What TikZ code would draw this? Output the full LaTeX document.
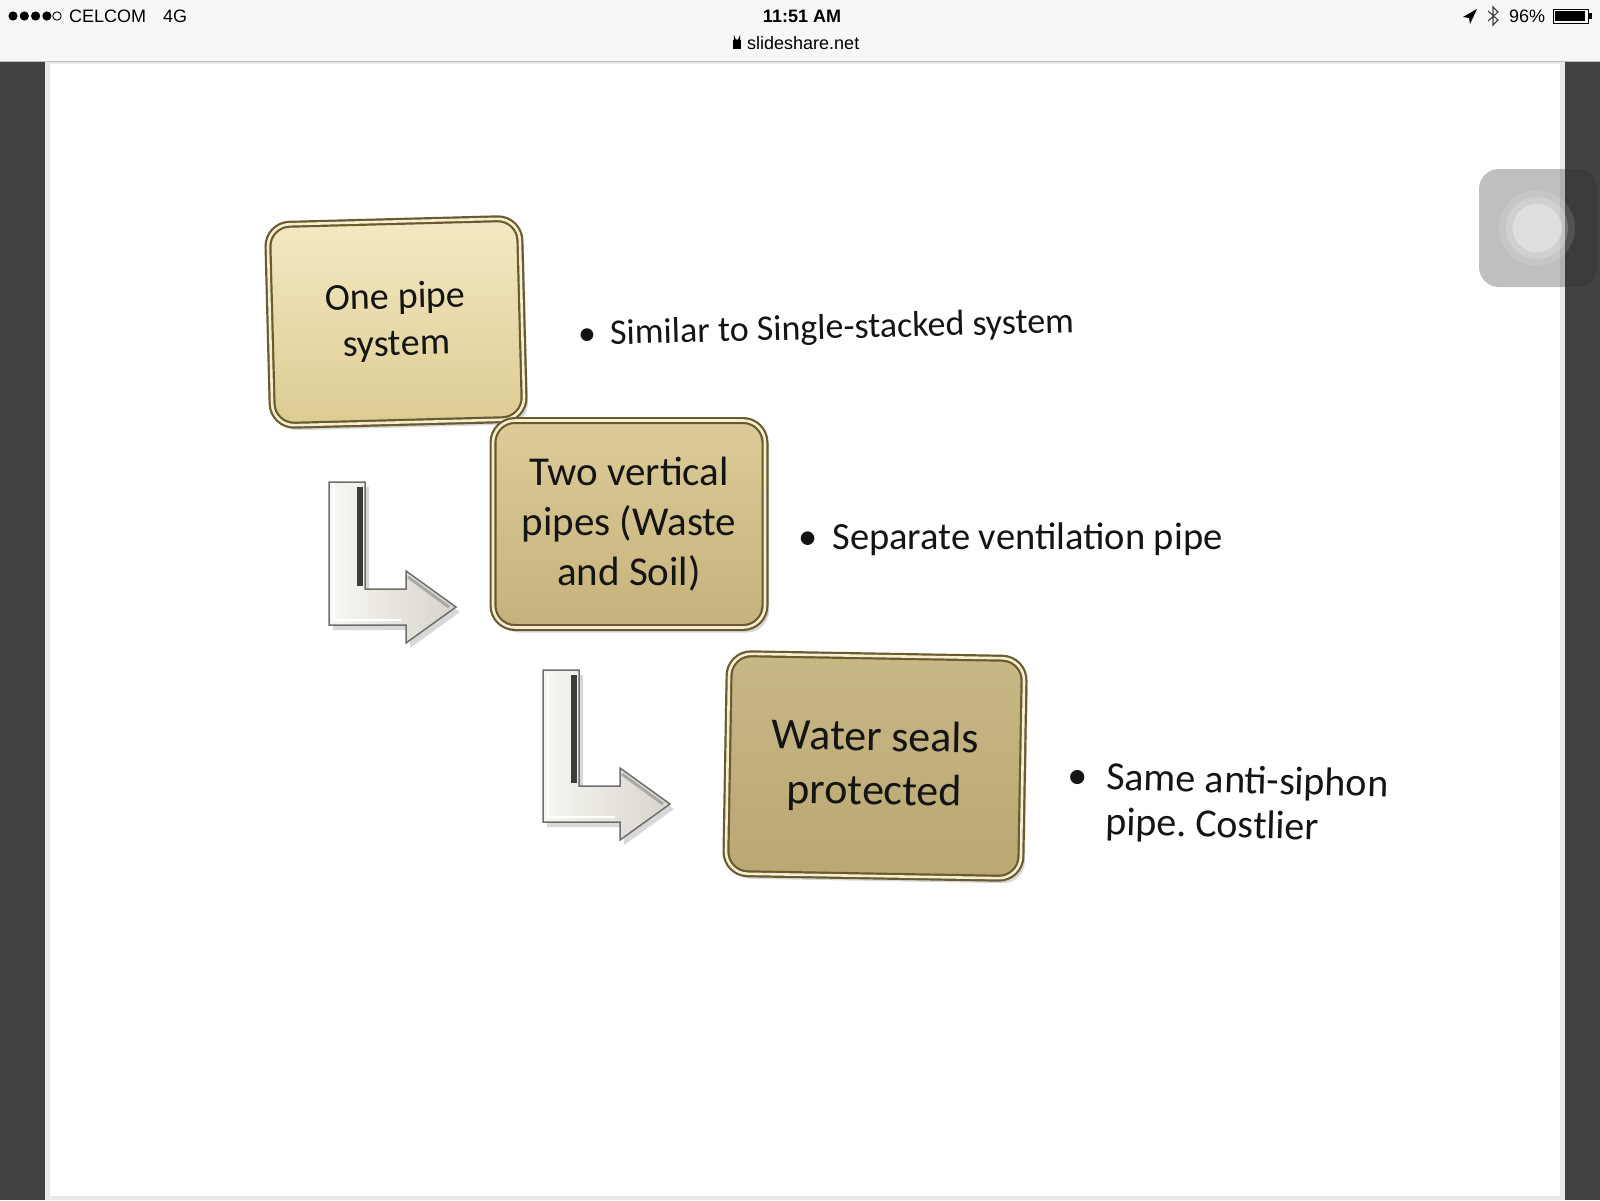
\documentclass[tikz,border=0pt]{standalone}
\usepackage{fontspec}
\setmainfont{Carlito}
\newfontfamily\statusfont{Liberation Sans}
\usetikzlibrary{shadows}
\frenchspacing

\definecolor{barbg}{HTML}{F7F7F7}
\definecolor{barline}{HTML}{BDBDBD}
\definecolor{sidedark}{HTML}{424242}
\definecolor{pagerim}{HTML}{E9E9E9}
\definecolor{inktext}{HTML}{141414}
\definecolor{rimdark}{HTML}{6A5B2E}
\definecolor{rimlight}{HTML}{F5EED2}
\definecolor{tanA}{HTML}{F4E9C4}
\definecolor{tanB}{HTML}{DCCB92}
\definecolor{tanC}{HTML}{DDCC99}
\definecolor{tanD}{HTML}{C5B17B}
\definecolor{tanE}{HTML}{C8B886}
\definecolor{tanF}{HTML}{BAA772}
\definecolor{arrowlight}{HTML}{F8F7F2}
\definecolor{arrowshade}{HTML}{D6D4CA}
\definecolor{arrowedge}{HTML}{6E6E6A}

% L-shaped arrow: #1 top left corner, #2 height of the bend
\newcommand{\bentarrow}[2]{%
  \draw[elbowarrow, shift={(#1)}] (0,0) -- (36,0) -- (36,#2-36) -- (77,#2-36)
    -- (77,#2-54) -- (127,#2-18) -- (77,#2+18) -- (77,#2) -- (0,#2) -- cycle;
  \draw[arrowedge!55!black, line width=6pt, shift={(#1)}] (31,5) -- (31,#2-39);
  \draw[arrowedge!60!white, line width=3pt, shift={(#1)}] (79,#2-48) -- (120,#2-18);
  \draw[white, line width=2pt, shift={(#1)}] (5,4) -- (5,#2-5) -- (72,#2-5);
}

\begin{document}
\begin{tikzpicture}[x=1pt, y=-1pt,
    pipebox/.style={rounded corners=22pt, draw=rimdark, double=rimlight,
      double distance=2.6pt, line width=2.2pt, align=center, inner sep=0pt,
      text=inktext, drop shadow={shadow xshift=4pt, shadow yshift=-5pt, opacity=0.3}},
    elbowarrow/.style={left color=arrowlight, right color=arrowshade,
      draw=arrowedge, line width=1.5pt,
      drop shadow={shadow xshift=4pt, shadow yshift=-5pt, opacity=0.3}},
    note/.style={anchor=west, text=inktext, align=left, inner sep=0pt},
    status/.style={font=\statusfont\fontsize{18}{20}\selectfont, inner sep=0pt}]
\useasboundingbox (0,0) rectangle (1600,1200);

% screen frame
\fill[sidedark] (0,0) rectangle (1600,1200);
\fill[pagerim] (45,62) rectangle (1565,1200);
\fill[white] (50,64) rectangle (1560,1196);
\fill[barbg] (0,0) rectangle (1600,61);
\draw[barline, line width=1.5pt] (0,61.5) -- (1600,61.5);

% status bar
\foreach \i in {0,...,3}
  \fill (13+11.3*\i,16) circle (4.6);
\draw[line width=0.9pt] (57,16) circle (4.2);
\node[status, anchor=west] (carrier) at (69,16) {CELCOM};
\node[status, anchor=west] (net) at (163,16) {4G};
\node[status, font=\statusfont\bfseries\fontsize{18}{20}\selectfont] (clock) at (802,16) {11:51 AM};
\node[status, anchor=west] (site) at (747,43) {slideshare.net};
\fill (733,40) rectangle (741,49);
\draw[line width=1.3pt] (734.5,41) -- (734.5,38) arc (180:0:2.5) -- (739.5,41);
\fill (1463,17) -- (1477,9) -- (1470,24) -- (1469,18) -- cycle;
\draw[black!75, line width=1.1pt] (1488,11) -- (1498,20) -- (1493,25) -- (1493,7) -- (1498,12) -- (1488,21);
\node[status, anchor=west] (battery) at (1509,16) {96\%};
\draw[line width=1pt] (1553,9) rectangle (1588,23);
\fill (1555,11) rectangle (1585,21);
\fill (1589,13) rectangle (1591.5,19);

% assistive touch button
\fill[black!82, opacity=0.3, rounded corners=20pt] (1479,169) rectangle (1597,287);
\fill[white, opacity=0.12] (1537,228) circle (38);
\fill[white, opacity=0.18] (1537,228) circle (31);
\filldraw[fill=black!13, draw=black!22] (1537,228) circle (25);

% boxes
\node[pipebox, top color=tanA, bottom color=tanB, minimum width=252pt,
  minimum height=201pt, rotate=1.5, font=\fontsize{38}{47}\selectfont]
  (onepipe) at (396,322) {One pipe\\system};
\node[pipebox, top color=tanC, bottom color=tanD, minimum width=272pt,
  minimum height=207pt, font=\fontsize{41}{50}\selectfont]
  (twopipe) at (629,524) {Two vertical\\pipes (Waste\\and Soil)};
\node[pipebox, top color=tanE, bottom color=tanF, minimum width=295pt,
  minimum height=220pt, rotate=-1, font=\fontsize{44}{54}\selectfont]
  (seals) at (875,766) {Water seals\\protected};

% arrows
\bentarrow{329,482}{143}
\bentarrow{543,670}{152}

% notes
\node[note, rotate=1.5, font=\fontsize{36}{40}\selectfont] (noteone) at (578,336)
  {\textbullet\hspace{14pt}Similar to Single-stacked system};
\node[note, font=\fontsize{38.5}{44}\selectfont] (notetwo) at (798,539)
  {\textbullet\hspace{15pt}Separate ventilation pipe};
\node[note, rotate=-1.5, font=\fontsize{40}{45}\selectfont] (notethree) at (1067,802)
  {\begin{tabular}{@{}l@{\hspace{19pt}}l@{}}\textbullet & Same anti-siphon\\ & pipe. Costlier\end{tabular}};
\end{tikzpicture}
\end{document}
